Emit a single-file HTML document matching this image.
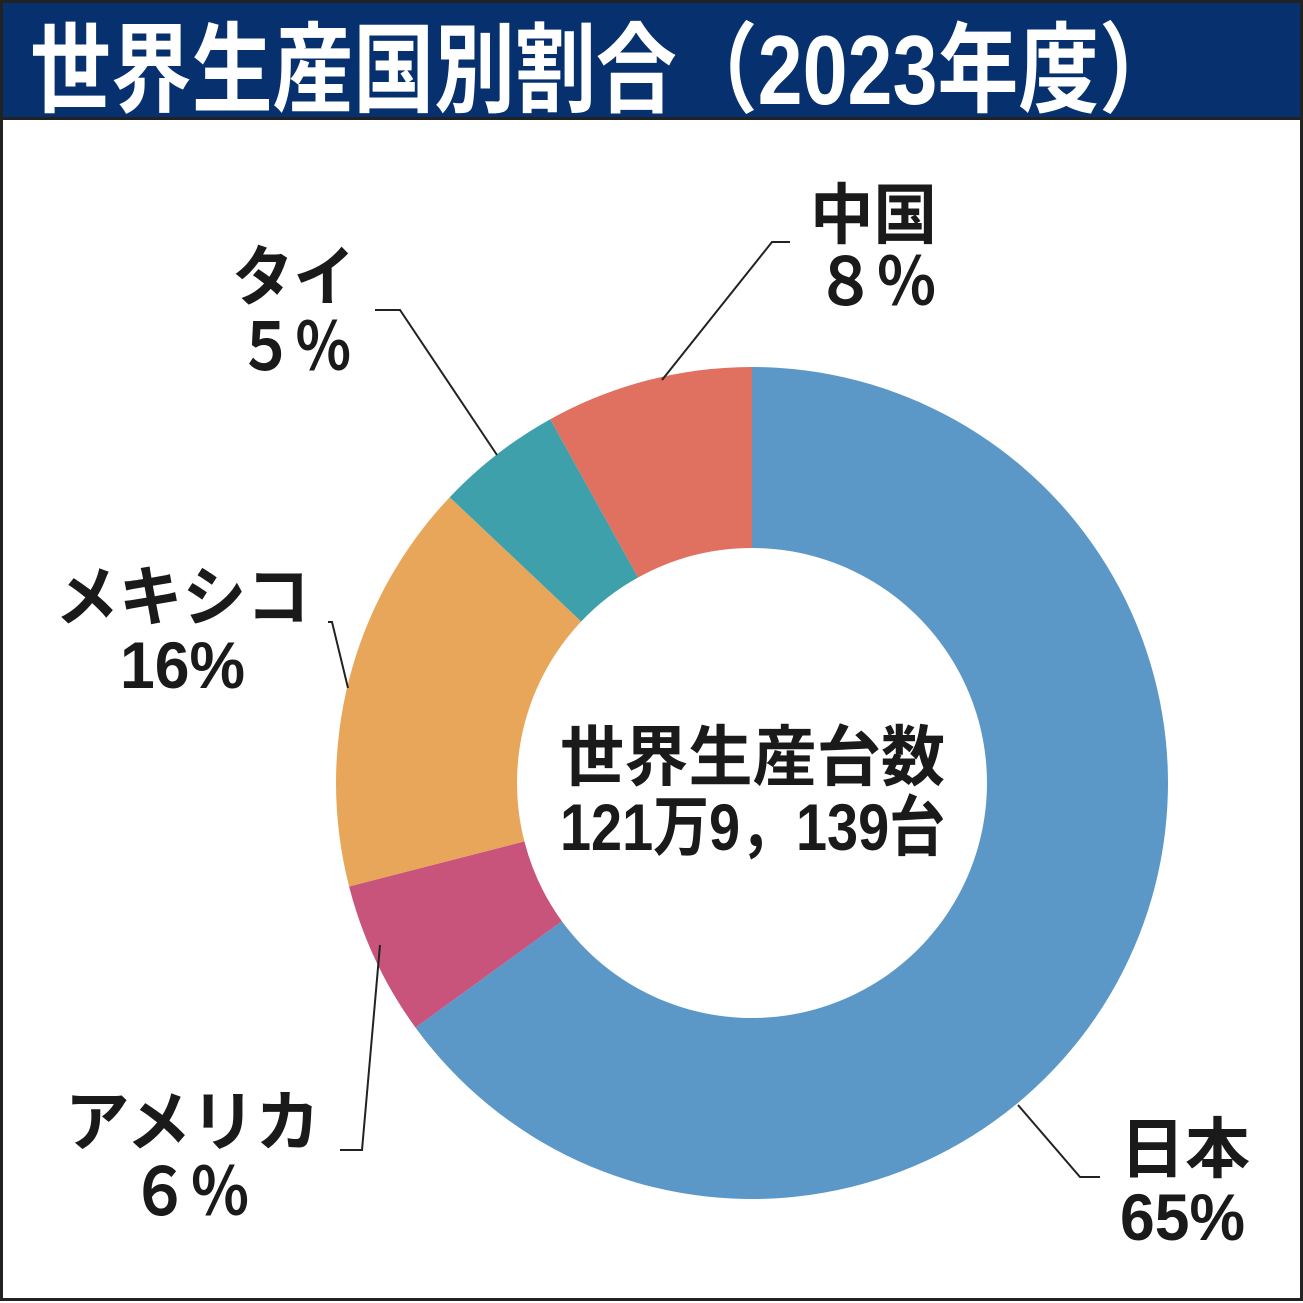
<!DOCTYPE html>
<html><head><meta charset="utf-8"><style>
html,body{margin:0;padding:0;background:#fff}
svg{display:block}
text{font-family:"Liberation Sans","Noto Sans CJK JP",sans-serif;font-weight:bold;fill:#1a1a1a}
</style></head><body>
<svg width="1303" height="1303" viewBox="0 0 1303 1303" xmlns="http://www.w3.org/2000/svg">
<rect x="1.5" y="1.5" width="1300" height="1298" fill="#fff" stroke="#222" stroke-width="3"/>
<rect x="0" y="0" width="1303" height="119" fill="#07306e"/>
<rect x="1.5" y="1.5" width="1300" height="117" fill="none" stroke="#222" stroke-width="3"/>
<text x="30" y="104" font-size="98" textLength="1150" lengthAdjust="spacingAndGlyphs" style="fill:#fff">世界生産国別割合（2023年度）</text>

<path d="M752,367 A416,416 0 1 1 415.5,1027.6 L561.9,921.2 A235,235 0 1 0 752,548 Z" fill="#5b98c8"/>
<path d="M415.5,1027.6 A416,416 0 0 1 349.1,886.5 L524.4,841.4 A235,235 0 0 0 561.9,921.2 Z" fill="#c8547c"/>
<path d="M349.1,886.5 A416,416 0 0 1 449.7,497.2 L581.2,621.5 A235,235 0 0 0 524.4,841.4 Z" fill="#e8a65a"/>
<path d="M449.7,497.2 A416,416 0 0 1 550.3,419.2 L638.1,577.5 A235,235 0 0 0 581.2,621.5 Z" fill="#3ea0ab"/>
<path d="M550.3,419.2 A416,416 0 0 1 752,367 L752,548 A235,235 0 0 0 638.1,577.5 Z" fill="#e07060"/>

<g stroke="#222" stroke-width="2" fill="none">
<polyline points="662,380 772,242 790,242"/>
<polyline points="497,455 400,310 375,310"/>
<polyline points="348,688 332,622 328,622"/>
<polyline points="380,945 362,1150 340,1150"/>
<polyline points="1018,1105 1080,1177 1100,1177"/>
</g>

<g font-size="66">
<text x="810" y="238" textLength="127" lengthAdjust="spacingAndGlyphs">中国</text>
<text x="815" y="305" textLength="122" lengthAdjust="spacingAndGlyphs">８％</text>
<text x="232" y="300" textLength="123" lengthAdjust="spacingAndGlyphs">タイ</text>
<text x="237" y="370" textLength="115" lengthAdjust="spacingAndGlyphs">５％</text>
<text x="55" y="620" textLength="255" lengthAdjust="spacingAndGlyphs">メキシコ</text>
<text x="120" y="688" textLength="125" lengthAdjust="spacingAndGlyphs">16%</text>
<text x="65" y="1145" textLength="255" lengthAdjust="spacingAndGlyphs">アメリカ</text>
<text x="130" y="1215" textLength="120" lengthAdjust="spacingAndGlyphs">６％</text>
<text x="1120" y="1172" textLength="130" lengthAdjust="spacingAndGlyphs">日本</text>
<text x="1120" y="1240" textLength="125" lengthAdjust="spacingAndGlyphs">65%</text>
<text x="560" y="780" textLength="385" lengthAdjust="spacingAndGlyphs">世界生産台数</text>
<text x="560" y="850" textLength="385" lengthAdjust="spacingAndGlyphs">121万9，139台</text>
</g>
</svg>
</body></html>
